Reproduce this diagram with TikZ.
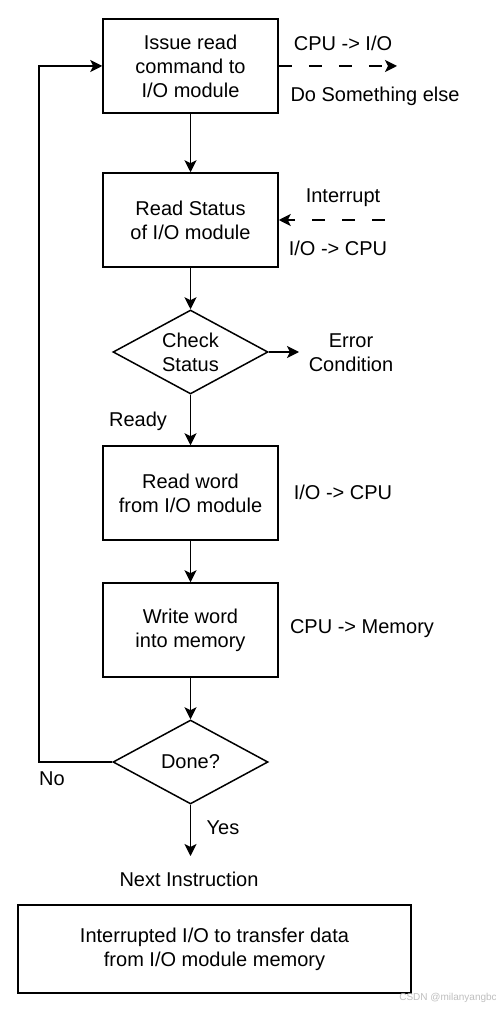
\documentclass[tikz,border=0pt]{standalone}
\usepackage{fontspec}
\setmainfont{Liberation Sans}
\usetikzlibrary{arrows.meta,shapes.geometric}

\begin{document}
\begin{tikzpicture}[x=0.5pt,y=-0.5pt,
    stepbox/.style={draw,line width=0.75pt,minimum width=87.5pt,minimum height=47pt,align=center,inner sep=0pt},
    decision/.style={draw,line width=0.75pt,diamond,aspect=1.85,minimum width=77.5pt,minimum height=42pt,align=center,inner sep=0pt},
    tag/.style={align=center,inner sep=1pt},
    flow/.style={line width=0.75pt,-{Stealth[length=6pt,width=6pt,inset=1.5pt]}},
    signal/.style={flow,dash pattern=on 6.5pt off 8.5pt}]
  \useasboundingbox[fill=white] (0,0) rectangle (496,1010);
  \node[stepbox] (issue) at (190.5,66) {Issue read\\command to\\I/O module};
  \node[stepbox] (readst) at (190.5,220) {Read Status\\of I/O module};
  \node[decision] (check) at (190.5,352) {Check\\Status};
  \node[stepbox] (readw) at (190.5,493) {Read word\\from I/O module};
  \node[stepbox] (writew) at (190.5,630) {Write word\\into memory};
  \node[decision] (done) at (190.5,762) {Done?};
  \node[draw,line width=0.75pt,minimum width=196.5pt,minimum height=44pt,align=center] (note) at (214.5,949) {Interrupted I/O to transfer data\\from I/O module memory};
  \node[tag] (cpuio) at (343,43) {CPU -> I/O};               % issue side
  \node[tag] (dosome) at (375,96) {Do Something else};
  \node[tag] (intr) at (343,198) {Interrupt};                % status side
  \node[tag] (iocpu) at (338,248) {I/O -> CPU};
  \node[tag] (err) at (351,353) {Error\\Condition};
  \node[tag] (ready) at (138,421) {Ready};
  \node[tag] (iocpub) at (343,492) {I/O -> CPU};
  \node[tag] (cpumem) at (362,629) {CPU -> Memory};
  \node[tag] (no) at (52,779) {No};
  \node[tag] (yes) at (223,828) {Yes};
  \node[tag] (next) at (189,879) {Next Instruction};
  \node[tag,text=black!25,font=\fontsize{5}{6}\selectfont] (mark) at (448,998) {CSDN @milanyangbc};
  \coordinate (sigout) at (397,66);
  \coordinate (sigin) at (385,220);
  \coordinate (errend) at (299,352);
  \coordinate (nextend) at (190.5,856);
  \coordinate (loop) at (39,762);
  \draw[flow] (issue) -- (readst);
  \draw[flow] (readst) -- (check);
  \draw[flow] (check) -- (readw);
  \draw[flow] (readw) -- (writew);
  \draw[flow] (writew) -- (done);
  \draw[flow] (check.east) -- (errend);
  \draw[flow] (done.south) -- (nextend);
  \draw[flow] (done.west) -- (loop) |- (issue.west);
  \draw[signal] (issue.east) -- (sigout);
  \draw[signal] (sigin) -- (readst.east);
\end{tikzpicture}
\end{document}
